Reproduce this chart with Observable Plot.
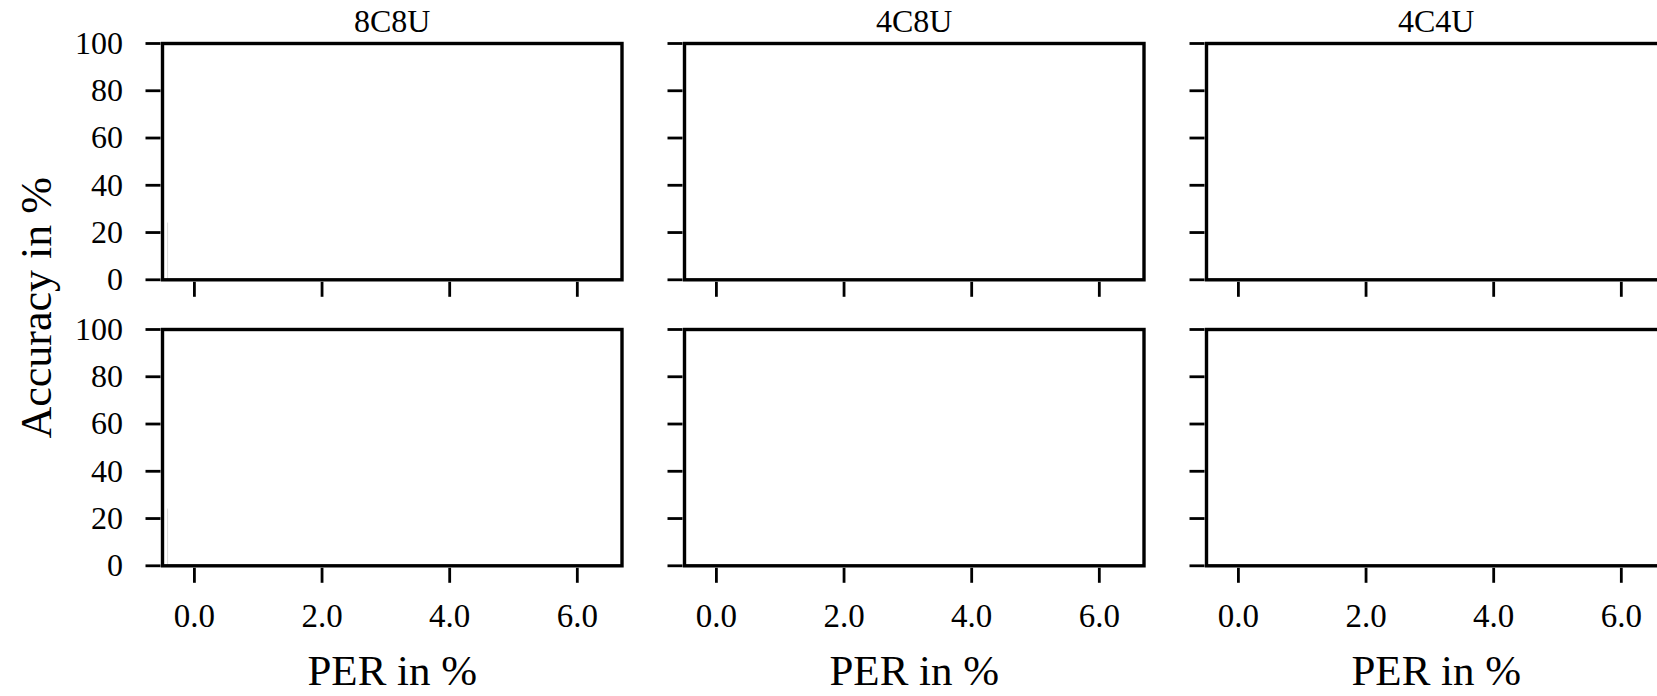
<!DOCTYPE html>
<html><head><meta charset="utf-8">
<script src="https://cdn.jsdelivr.net/npm/d3@7"></script>
<script src="https://cdn.jsdelivr.net/npm/@observablehq/plot@0.6"></script>
<style>
html,body{margin:0;padding:0;background:#fff;}
#chart{position:relative;width:1657px;height:696px;overflow:hidden;background:#fff;}
#chart svg{position:absolute;}
#chart svg, #chart svg text{font-family:"Liberation Serif","Times New Roman",serif !important;}
</style></head><body><div id="chart"></div>
<script>
// ---- data ----
const panels = ["8C8U", "4C8U", "4C4U"];
const rowIds = [0, 1];
const xTicks = [0, 2, 4, 6];
const yTicks = [0, 20, 40, 60, 80, 100];
const xDomain = [-0.5, 6.7];
const yDomain = [0, 100];
// faint trace visible at the left edge of the 8C8U panels
const faintPanel = ["8C8U", "8C8U"];
const faintRow = [0, 1];
const faintX = [-0.42, -0.42];
const faintY = [24, 24];
const xLabel = "PER in %";
const yLabel = "Accuracy in %";

// ---- layout ----
const left0 = 162, colStep = 522, panelW = 459.5;
const tops = [43, 329.3], panelH = 236.3;
const ml = 162, mr = 40, mt = 43, mb = 130;

const chart = document.getElementById("chart");
rowIds.forEach((r) => panels.forEach((p, c) => {
  const faint = faintPanel
    .map((fp, i) => ({fp, row: faintRow[i], x: faintX[i], y: faintY[i]}))
    .filter(d => d.fp === p && d.row === r);
  const marks = [
    Plot.ruleX(faint, {x: "x", y1: 0, y2: "y", stroke: "#d9d9d9", strokeWidth: 1}),
    Plot.frame({stroke: "black", strokeWidth: 3.4}),
    Plot.axisX({ticks: xTicks, tickSize: 15, tickPadding: 20, strokeWidth: 2.8, dy: 2.5, fontSize: 33,
      tickFormat: r === 1 ? d3.format(".1f") : () => "", label: null}),
    Plot.axisY({ticks: yTicks, tickSize: 15, tickPadding: 23, strokeWidth: 2.8, dx: -1.5, fontSize: 32,
      tickFormat: c === 0 ? d3.format("d") : () => "", label: null})
  ];
  if (r === 0) marks.push(Plot.text([p], {text: d => d, frameAnchor: "top", lineAnchor: "bottom", dy: -11.3, fontSize: 32, fill: "black"}));
  if (r === 1) marks.push(Plot.text([xLabel], {text: d => d, frameAnchor: "bottom", lineAnchor: "bottom", dy: 119, fontSize: 43, fill: "black"}));
  if (r === 0 && c === 0) marks.push(Plot.text([yLabel], {text: d => d, frameAnchor: "bottom-left", textAnchor: "middle", lineAnchor: "middle", rotate: -90, dx: -126, dy: 28, fontSize: 44, fill: "black"}));
  const svg = Plot.plot({
    width: ml + panelW + mr,
    height: mt + panelH + mb,
    marginLeft: ml, marginRight: mr, marginTop: mt, marginBottom: mb,
    x: {domain: xDomain},
    y: {domain: yDomain},
    style: {color: "black", background: "transparent", overflow: "visible", maxWidth: "none"},
    marks
  });
  svg.style.left = (left0 + c * colStep - ml) + "px";
  svg.style.top = (tops[r] - mt) + "px";
  chart.appendChild(svg);
}));
</script>
</body></html>
